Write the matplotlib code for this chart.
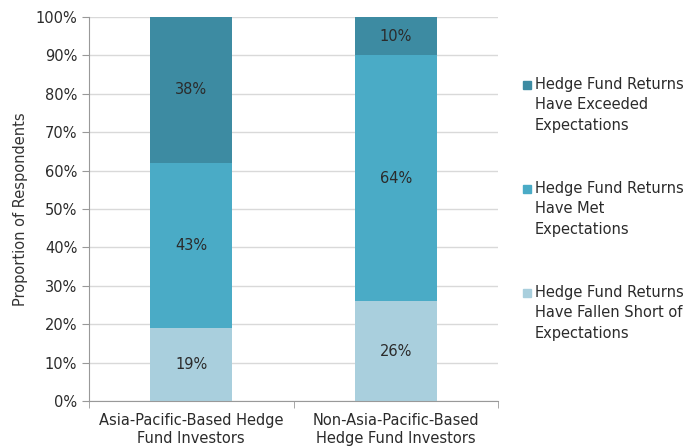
import matplotlib.pyplot as plt

plt.rcParams['font.family'] = ['DejaVu Sans']

categories = ['Asia-Pacific-Based Hedge\nFund Investors', 'Non-Asia-Pacific-Based\nHedge Fund Investors']
fallen_short = [19, 26]
met = [43, 64]
exceeded = [38, 10]

labels = ['Hedge Fund Returns\nHave Exceeded\nExpectations',
          'Hedge Fund Returns\nHave Met\nExpectations',
          'Hedge Fund Returns\nHave Fallen Short of\nExpectations']
colors = ['#3d8ba2', '#4aabc6', '#a9cfdd']

fs = 10.5
txt = '#2b2b2b'

fig = plt.figure(figsize=(6.98, 4.48), dpi=100)
ax = fig.add_axes([0.1275, 0.105, 0.586, 0.857])

x = list(range(len(categories)))
w = 0.4
ax.bar(x, fallen_short, w, color=colors[2], zorder=2)
ax.bar(x, met, w, bottom=fallen_short, color=colors[1], zorder=2)
bottom2 = [a + b for a, b in zip(fallen_short, met)]
ax.bar(x, exceeded, w, bottom=bottom2, color=colors[0], zorder=2)

# value labels in the middle of each segment
for i in x:
    segs = [(0, fallen_short[i]), (fallen_short[i], met[i]), (bottom2[i], exceeded[i])]
    for b, v in segs:
        ax.text(i, b + v / 2, f'{v}%', ha='center', va='center', fontsize=fs, color=txt, zorder=3)

ax.set_xlim(-0.5, 1.5)
ax.set_ylim(0, 100)
ax.set_yticks(range(0, 101, 10))
ax.set_yticklabels([f'{t}%' for t in range(0, 101, 10)])
ax.set_xticks(x)
ax.set_xticklabels(categories)
ax.tick_params(axis='x', length=0, labelsize=fs, colors=txt, pad=9)
ax.set_xticks([-0.5, 0.5, 1.5], minor=True)
ax.tick_params(axis='x', which='minor', length=5, color='#999999')
ax.tick_params(axis='y', length=5, color='#999999', labelsize=fs, labelcolor=txt)
ax.yaxis.grid(True, color='#d9d9d9', linewidth=1, zorder=0)
ax.set_axisbelow(True)
for s in ['top', 'right']:
    ax.spines[s].set_visible(False)
for s in ['left', 'bottom']:
    ax.spines[s].set_color('#999999')
ax.set_ylabel('Proportion of Respondents', fontsize=fs, color='#333333', labelpad=5)

# legend drawn by hand: square next to the first line, wide gaps between items
W, H = 698, 448
for k, (lab, c) in enumerate(zip(labels, colors)):
    ytop = 85 + k * 104
    fig.patches.append(plt.Rectangle((523 / W, 1 - (ytop + 4) / H), 8 / W, 8 / H,
                                     transform=fig.transFigure, color=c))
    fig.text(535 / W, 1 - (ytop - 8) / H, lab, ha='left', va='top', fontsize=fs,
             color=txt, linespacing=1.45)

fig.savefig('out.png', dpi=100)
